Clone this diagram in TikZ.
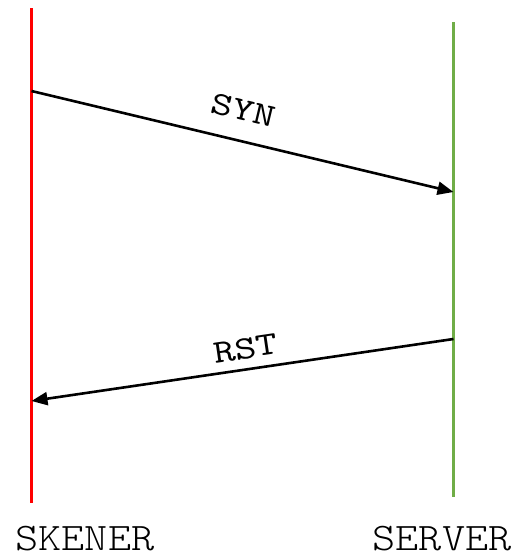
\documentclass[tikz,border=0pt]{standalone}
\usepackage{fontspec}
\usetikzlibrary{arrows.meta}
\newfontfamily\bigmono[FakeStretch=1.13]{lmmonolt10-regular.otf}
\newfontfamily\smallmono[FakeStretch=1.25]{lmmono10-regular.otf}
\definecolor{srvgreen}{RGB}{112,173,71}
\tikzset{
  lifeline/.style={line width=2.5pt},
  msg/.style={line width=2.6pt,-{Triangle[length=16pt,width=13pt]}},
  msglabel/.style={font=\smallmono\fontsize{33}{36}\selectfont,inner sep=0pt,sloped},
  actor/.style={font=\bigmono\fontsize{39}{44}\selectfont,inner sep=0pt,anchor=base}
}
\begin{document}
\begin{tikzpicture}[x=1pt,y=-1pt]
\useasboundingbox (0,0) rectangle (528,555);
\coordinate (stop) at (31.5,8);
\coordinate (sbot) at (31.5,503);
\coordinate (vtop) at (453.5,22);
\coordinate (vbot) at (453.5,497);
\coordinate (s1) at (31.5,91);
\coordinate (v1) at (453.5,192);
\coordinate (v2) at (453.5,339);
\coordinate (s2) at (31.5,401);
\draw[lifeline,red] (stop) -- (sbot);
\draw[lifeline,srvgreen] (vtop) -- (vbot);
\draw[msg] (s1) -- node[msglabel,pos=0.485,above=19pt] (syn) {SYN} (v1);
\draw[msg] (v2) -- node[msglabel,pos=0.485,above=9pt] (rst) {RST} (s2);
\node[actor] (skener) at (85,550) {SKENER};
\node[actor] (server) at (442,550) {SERVER};
\end{tikzpicture}
\end{document}
